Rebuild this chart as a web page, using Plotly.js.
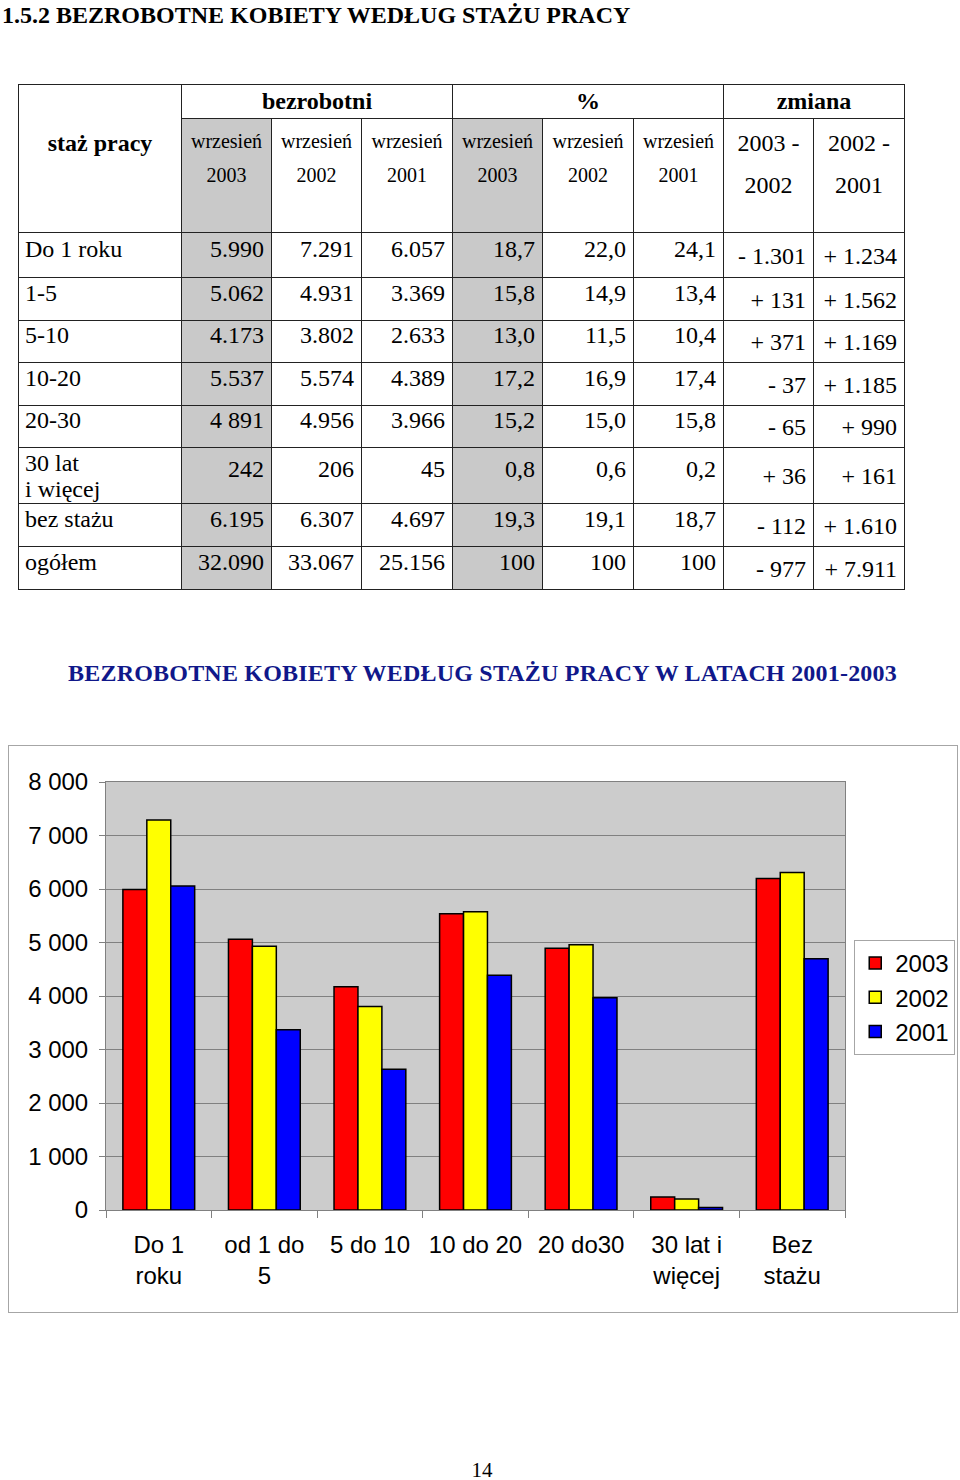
<!DOCTYPE html>
<html><head><meta charset="utf-8">
<script src="https://cdn.plot.ly/plotly-3.0.1.min.js"></script>
<style>
html,body{margin:0;padding:0;background:#fff;}
body{width:960px;height:1480px;position:relative;overflow:hidden;font-family:"Liberation Serif","Times New Roman",serif;color:#000;}
#pageTitle{position:absolute;left:2px;top:0;font-weight:bold;font-size:24px;line-height:30px;white-space:nowrap;}
#tbl{position:absolute;left:18px;top:84px;width:886px;border-collapse:collapse;table-layout:fixed;}
#tbl td{border:1px solid #222;padding:0;font-size:24px;line-height:27px;overflow:visible;white-space:nowrap;}
#tbl td.gray{background:#c9c9c9;}
#tbl td.hStaz{font-weight:bold;text-align:center;vertical-align:top;padding-top:44px;line-height:28px;}
#tbl td.hGroup{font-weight:bold;text-align:center;vertical-align:middle;}
#tbl td.hSub{font-size:20px;line-height:34px;text-align:center;vertical-align:top;padding-top:5px;}
#tbl td.hZm{font-size:24px;line-height:42px;text-align:center;vertical-align:top;padding-top:3px;}
#tbl td.lab{text-align:left;padding-left:6px;vertical-align:middle;padding-bottom:12px;}
#tbl td.lab2{text-align:left;padding-left:6px;vertical-align:middle;line-height:26px;}
#tbl td.num{text-align:right;padding-right:7px;vertical-align:middle;padding-bottom:12px;}
#tbl td.zm{text-align:right;padding-right:7px;vertical-align:middle;padding-top:2px;}
#chartTitle{position:absolute;left:0;width:965px;top:658px;text-align:center;font-weight:bold;font-size:24px;line-height:30px;color:#10188a;white-space:nowrap;letter-spacing:0.2px;}
#chart{position:absolute;left:8px;top:745px;width:948px;height:566px;border:1px solid #a6a6a6;}
#pageNum{position:absolute;left:0;width:964px;top:1458px;text-align:center;font-size:21px;line-height:24px;}
</style>
</head>
<body>
<div id="pageTitle">1.5.2 BEZROBOTNE KOBIETY WEDŁUG STAŻU PRACY</div>
<table id="tbl"></table>
<div id="chartTitle">BEZROBOTNE KOBIETY WEDŁUG STAŻU PRACY W LATACH 2001-2003</div>
<div id="chart"></div>
<div id="pageNum">14</div>
<script>
// ---- table data ----
const stazLabels = ["Do 1 roku","1-5","5-10","10-20","20-30","30 lat<br>i więcej","bez stażu","ogółem"];
const groupHeaders = ["bezrobotni","%","zmiana"];
const monthLabel = "wrzesień";
const tableYears = ["2003","2002","2001"];
const zmianaHeaders = ["2003 -<br>2002","2002 -<br>2001"];
const bezrobotni2003 = ["5.990","5.062","4.173","5.537","4 891","242","6.195","32.090"];
const bezrobotni2002 = ["7.291","4.931","3.802","5.574","4.956","206","6.307","33.067"];
const bezrobotni2001 = ["6.057","3.369","2.633","4.389","3.966","45","4.697","25.156"];
const proc2003 = ["18,7","15,8","13,0","17,2","15,2","0,8","19,3","100"];
const proc2002 = ["22,0","14,9","11,5","16,9","15,0","0,6","19,1","100"];
const proc2001 = ["24,1","13,4","10,4","17,4","15,8","0,2","18,7","100"];
const zmiana0302 = ["- 1.301","+ 131","+ 371","- 37","- 65","+ 36","- 112","- 977"];
const zmiana0201 = ["+ 1.234","+ 1.562","+ 1.169","+ 1.185","+ 990","+ 161","+ 1.610","+ 7.911"];

// ---- chart data ----
const chartCategories = ["Do 1<br>roku","od 1 do<br>5","5 do 10","10 do 20","20 do30","30 lat i<br>więcej","Bez<br>stażu"];
const seriesNames = ["2003","2002","2001"];
const values2003 = [5990,5062,4173,5537,4891,242,6195];
const values2002 = [7291,4931,3802,5574,4956,206,6307];
const values2001 = [6057,3369,2633,4389,3966,45,4697];

// ---- build table ----
(function(){
  const colW=[163,90,90,91,90,91,90,90,91];
  const headH=[34,114];
  const rowH=[45,43,42,43,42,56,43,43];
  let h='<colgroup>'+colW.map(w=>'<col style="width:'+w+'px">').join('')+'</colgroup>';
  h+='<tr style="height:'+headH[0]+'px"><td rowspan="2" class="hStaz">staż pracy</td>'+
     '<td colspan="3" class="hGroup">'+groupHeaders[0]+'</td>'+
     '<td colspan="3" class="hGroup">'+groupHeaders[1]+'</td>'+
     '<td colspan="2" class="hGroup">'+groupHeaders[2]+'</td></tr>';
  h+='<tr style="height:'+headH[1]+'px">';
  for(let g=0;g<2;g++){
    tableYears.forEach((y,i)=>{ h+='<td class="hSub'+(i===0?' gray':'')+'">'+monthLabel+'<br>'+y+'</td>'; });
  }
  zmianaHeaders.forEach(z=>{ h+='<td class="hZm">'+z+'</td>'; });
  h+='</tr>';
  const cols=[bezrobotni2003,bezrobotni2002,bezrobotni2001,proc2003,proc2002,proc2001];
  stazLabels.forEach((lab,r)=>{
    h+='<tr style="height:'+rowH[r]+'px">';
    h+='<td class="'+(lab.indexOf('<br>')>=0?'lab2':'lab')+'">'+lab+'</td>';
    cols.forEach((c,ci)=>{ h+='<td class="num'+((ci===0||ci===3)?' gray':'')+'">'+c[r]+'</td>'; });
    h+='<td class="zm">'+zmiana0302[r]+'</td><td class="zm">'+zmiana0201[r]+'</td>';
    h+='</tr>';
  });
  document.getElementById('tbl').innerHTML=h;
})();

// ---- chart ----
const seriesValues=[values2003,values2002,values2001];
const seriesColors=['#ff0000','#ffff00','#0000ff'];
const traces=seriesNames.map((n,i)=>({
  type:'bar', name:n, x:chartCategories, y:seriesValues[i],
  marker:{color:seriesColors[i], line:{color:'#000000', width:1.5}},
  hoverinfo:'none'
}));
const layout={
  width:948, height:566,
  margin:{l:97,r:112,t:36,b:102,pad:0,autoexpand:false},
  paper_bgcolor:'#ffffff', plot_bgcolor:'#cccccc',
  separators:', ',
  barmode:'group', bargap:0.32, bargroupgap:0,
  font:{family:'"Liberation Sans", Arial, sans-serif', size:24, color:'#000'},
  xaxis:{type:'category', showline:true, linecolor:'#808080', linewidth:1, mirror:true,
    ticks:'outside', tickson:'boundaries', ticklen:7, tickcolor:'#808080', tickwidth:1,
    showgrid:false, ticklabelstandoff:13, tickfont:{size:24}, automargin:false},
  yaxis:{range:[0,8000], dtick:1000, tick0:0, tickformat:',d',
    showgrid:true, gridcolor:'#808080', gridwidth:1, zeroline:false,
    showline:true, linecolor:'#808080', linewidth:1, mirror:true,
    ticks:'outside', ticklen:6, tickcolor:'#808080', ticklabelstandoff:6, tickfont:{size:24}, automargin:false},
  legend:{x:1.0125, y:0.6308, xanchor:'left', yanchor:'top', bgcolor:'#ffffff',
    bordercolor:'#a6a6a6', borderwidth:1, font:{size:24}},
  showlegend:true
};
Plotly.newPlot('chart', traces, layout, {staticPlot:true, displayModeBar:false});
</script>
</body></html>
